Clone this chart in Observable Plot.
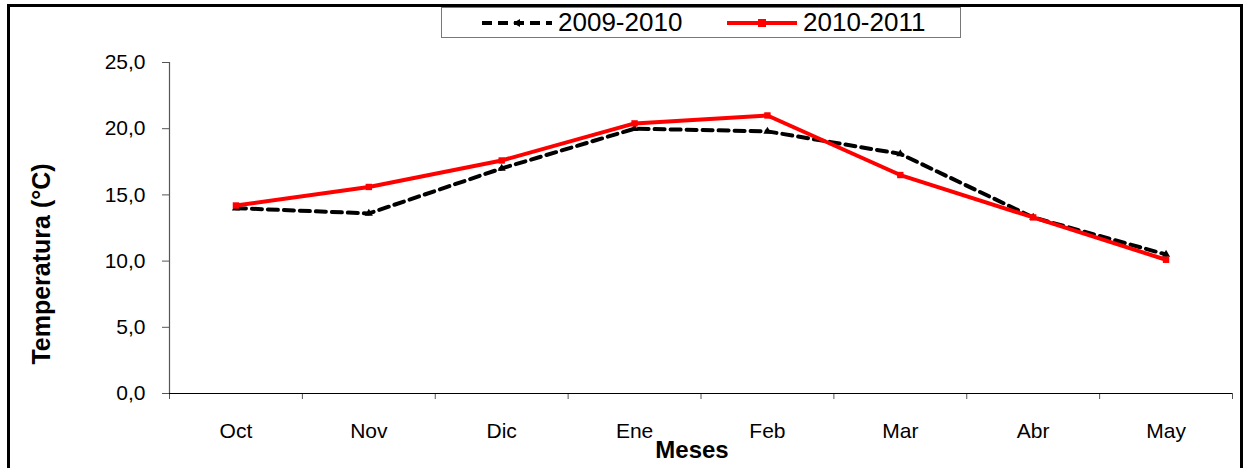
<!DOCTYPE html>
<html>
<head>
<meta charset="utf-8">
<script src="https://cdn.jsdelivr.net/npm/d3@7"></script>
<script src="https://cdn.jsdelivr.net/npm/@observablehq/plot@0.6"></script>
<style>
  html, body { margin: 0; padding: 0; background: #fff; }
  #wrap { position: relative; width: 1244px; height: 468px; overflow: hidden; font-family: "Liberation Sans", Arial, sans-serif; }
  #frame { position: absolute; left: 7px; top: 4px; width: 1230px; height: 480px; border: 3px solid #000; box-sizing: content-box; }
  #chart { position: absolute; left: 0; top: 0; }
  #legend { position: absolute; left: 441px; top: 7px; width: 520px; height: 31px; border: 1.5px solid #777; background: #fff; box-sizing: border-box; }
  .item { position: absolute; top: 0; height: 100%; display: flex; align-items: center; font-size: 26px; color: #000; }
  .item svg { margin-right: 6px; }
</style>
</head>
<body>
<div id="wrap">
  <div id="frame"></div>
  <div id="chart"></div>
  <div id="legend"></div>
</div>
<script>
// ---- data ----
const months = ["Oct", "Nov", "Dic", "Ene", "Feb", "Mar", "Abr", "May"];
const series1Name = "2009-2010";
const series1 = [14.0, 13.6, 17.0, 20.0, 19.8, 18.1, 13.3, 10.5];
const series2Name = "2010-2011";
const series2 = [14.2, 15.6, 17.6, 20.4, 21.0, 16.5, 13.3, 10.1];
const yTicks = [0, 5, 10, 15, 20, 25];
const xTitle = "Meses";
const yTitle = "Temperatura (°C)";

const rows1 = months.map((m, i) => ({pos: i + 0.5, month: m, v: series1[i]}));
const rows2 = months.map((m, i) => ({pos: i + 0.5, month: m, v: series2[i]}));
const boundaries = d3.range(0, months.length + 1);
const centers = months.map((m, i) => i + 0.5);
const fmt = d => d.toFixed(1).replace(".", ",");

const chart = Plot.plot({
  width: 1244,
  height: 468,
  marginLeft: 169,
  marginRight: 12,
  marginTop: 62,
  marginBottom: 75,
  style: {fontFamily: "'Liberation Sans', Arial, sans-serif", background: "transparent", overflow: "visible"},
  x: {type: "linear", domain: [0, months.length]},
  y: {domain: [0, 25]},
  marks: [
    Plot.axisY(yTicks, {tickSize: 7, tickPadding: 17, fontSize: 21, tickFormat: fmt, stroke: "#555", fill: "#000", label: null}),
    Plot.axisX(boundaries, {tickSize: 6, tickFormat: () => "", stroke: "#555", label: null}),
    Plot.axisX(centers, {tickSize: 0, tickPadding: 30, fontSize: 21, fill: "#000", tickFormat: d => months[Math.floor(d)], label: null}),
    Plot.ruleX([0], {stroke: "#555", strokeWidth: 1.2}),
    Plot.ruleY([0], {stroke: "#000", strokeWidth: 1.2}),
    Plot.line(rows1, {x: "pos", y: "v", stroke: "#000", strokeWidth: 4, strokeDasharray: "10,6"}),
    Plot.dot(rows1, {x: "pos", y: "v", symbol: "triangle", r: 3, fill: "#000", stroke: "none"}),
    Plot.line(rows2, {x: "pos", y: "v", stroke: "#ff0000", strokeWidth: 4}),
    Plot.dot(rows2, {x: "pos", y: "v", symbol: "square", r: 3.6, fill: "#ff0000", stroke: "none"}),
    Plot.text([xTitle], {frameAnchor: "bottom", textAnchor: "middle", dx: -9, dy: 57, text: d => d, fontSize: 24, fontWeight: "bold", fill: "#000", lineAnchor: "middle"}),
    Plot.text([yTitle], {frameAnchor: "left", textAnchor: "middle", dx: -128, dy: 36, rotate: -90, text: d => d, fontSize: 25, fontWeight: "bold", fill: "#000", lineAnchor: "middle"})
  ]
});
document.getElementById("chart").appendChild(chart);

// ---- legend ----
const legend = document.getElementById("legend");
function addItem(left, name, color, dash, marker) {
  const div = document.createElement("div");
  div.className = "item";
  div.style.left = left + "px";
  const sw = 70;
  let m = "";
  if (marker === "square") m = `<rect x="${sw/2-4}" y="7" width="8" height="8" fill="${color}"/>`;
  else m = `<path d="M${sw/2-4},11 L${sw/2+3},7 L${sw/2+3},15 Z" fill="${color}"/>`;
  div.innerHTML = `<svg width="${sw}" height="22"><line x1="0" x2="${sw}" y1="11" y2="11" stroke="${color}" stroke-width="${dash ? 4 : 4}" ${dash ? 'stroke-dasharray="10,6"' : ''}/>${m}</svg><span>${name}</span>`;
  legend.appendChild(div);
}
addItem(40, series1Name, "#000", true, "triangle");
addItem(285, series2Name, "#ff0000", false, "square");
</script>
</body>
</html>
